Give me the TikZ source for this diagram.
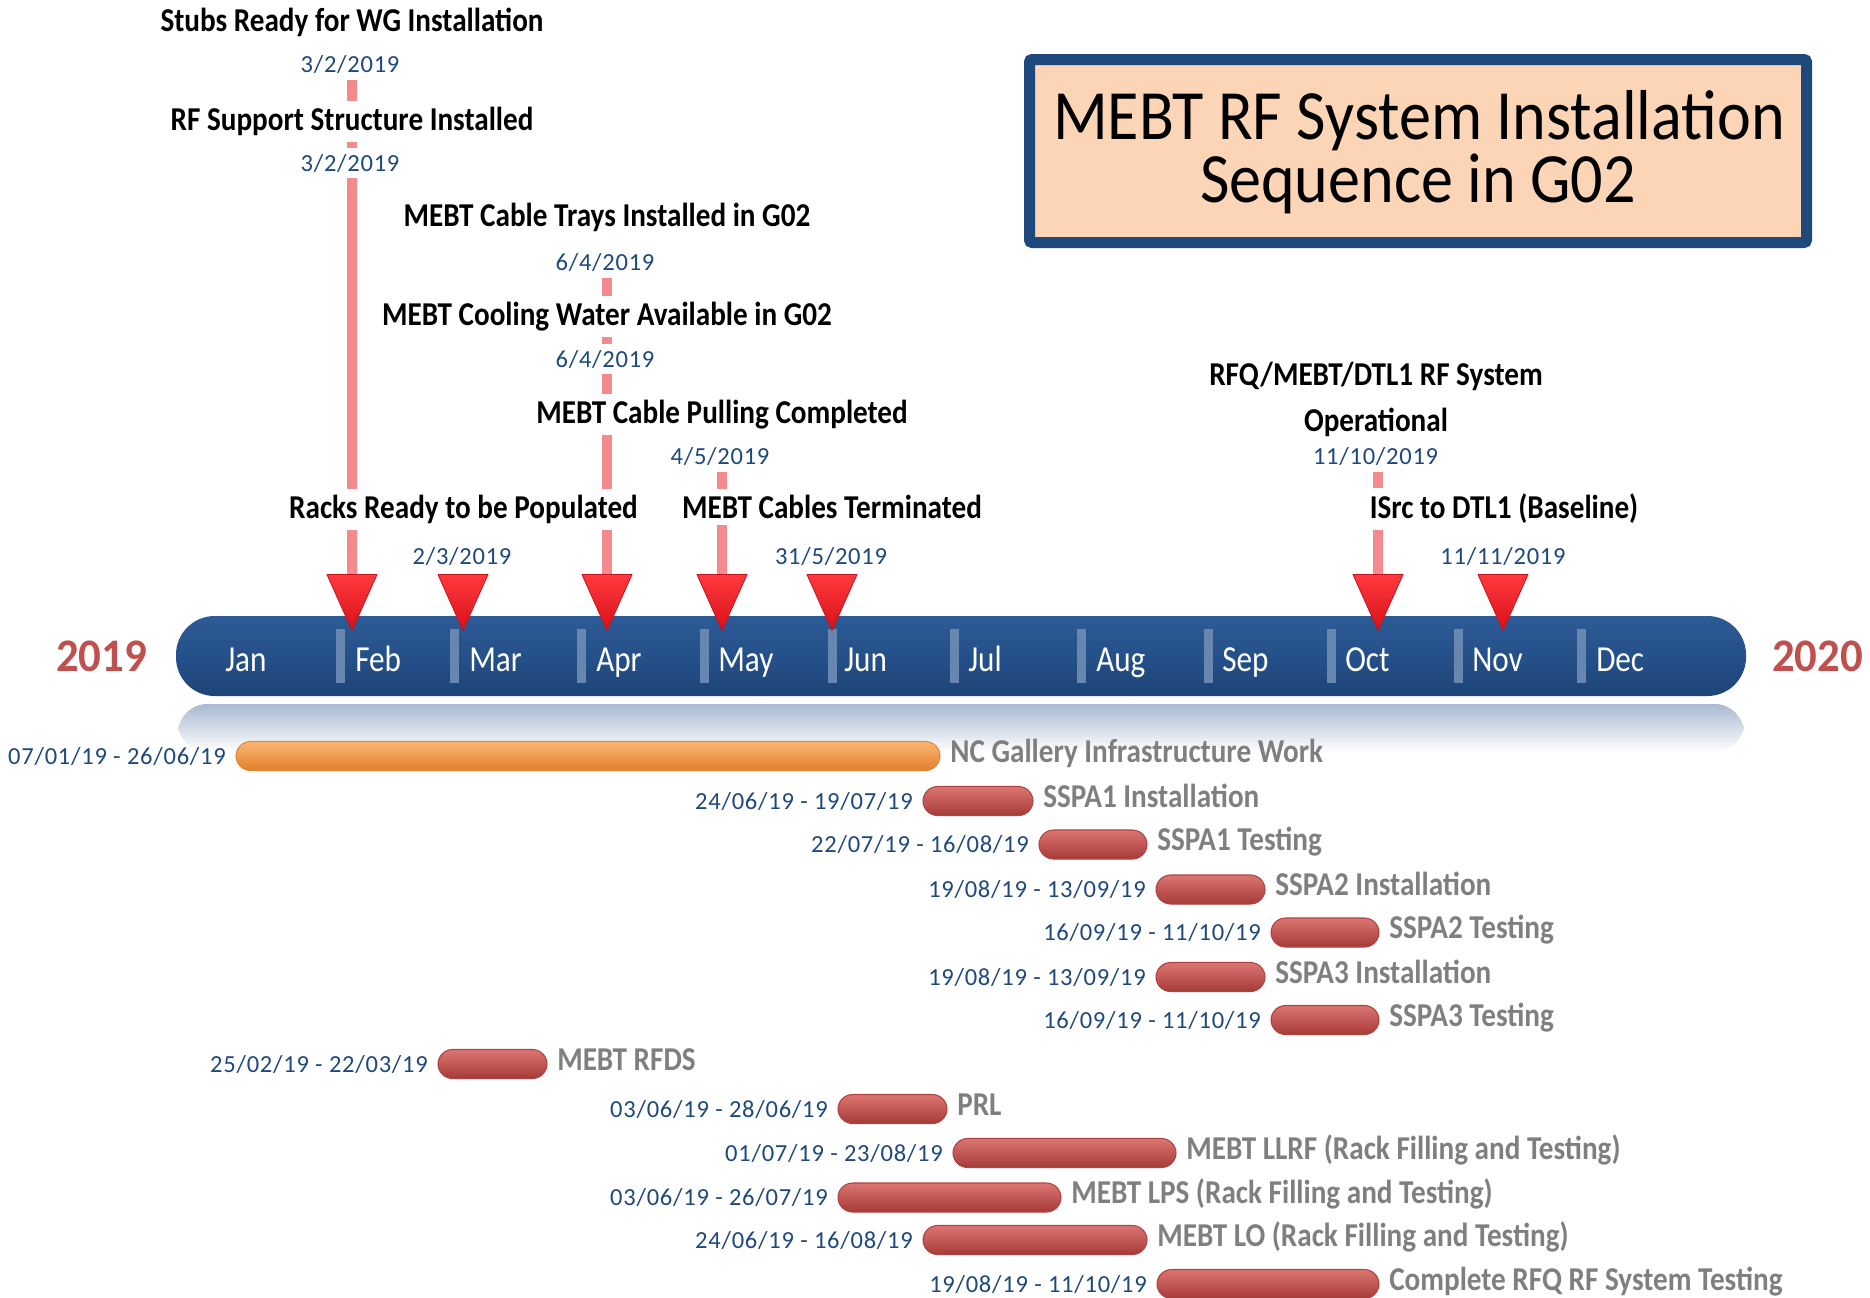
\documentclass[tikz,border=0pt]{standalone}
\usepackage{fontspec}
\setmainfont{Carlito}
\newfontfamily\lblfont{Carlito}[FakeStretch=0.875]
\newfontfamily\datefont{Carlito}[LetterSpace=3]
\newfontfamily\monfont{Carlito}[FakeStretch=0.85]
\newfontfamily\ttlfont{Carlito}[FakeStretch=0.907]
\newfontfamily\yrfont{Carlito}[FakeStretch=0.96]
\definecolor{dblue}{HTML}{1F497D}
\definecolor{lgray}{HTML}{7F7F7F}
\definecolor{yred}{HTML}{C0504D}
\definecolor{mspink}{HTML}{F38A8E}
\definecolor{sepblue}{HTML}{6786B0}
\definecolor{peach}{HTML}{FBD5B5}
\pgfdeclarelayer{bg}
\pgfsetlayers{bg,main}
\tikzset{
  tbox/.style={draw=dblue, line width=8.25pt, fill=peach, rounded corners=2pt,
    minimum width=582.75pt, minimum height=137.25pt, inner sep=0pt},
  ttl/.style={font=\ttlfont\fontsize{53}{50}\selectfont, anchor=base, inner sep=0pt,
    text height=37pt, text depth=7pt},
  msl/.style={font=\lblfont\bfseries\fontsize{25}{28}\selectfont, fill=white,
    inner xsep=2pt, inner ysep=4.5pt, anchor=base},
  msd/.style={font=\datefont\fontsize{18.4}{22}\selectfont, text=dblue, fill=white,
    inner xsep=2pt, inner ysep=4.5pt, anchor=base},
  gd/.style={font=\datefont\fontsize{18.4}{22}\selectfont, text=dblue, anchor=base east, inner sep=0pt},
  gl/.style={font=\lblfont\bfseries\fontsize{25}{28}\selectfont, text=lgray, anchor=base west, inner sep=0pt},
  monthlbl/.style={font=\monfont\fontsize{27.5}{30}\selectfont, text=white, anchor=base west, inner sep=0pt},
  yearlbl/.style={font=\yrfont\bfseries\fontsize{35}{38}\selectfont, text=yred, anchor=base, inner sep=0pt},
  monthsep/.style={draw=sepblue, line width=6.75pt},
  pinkline/.style={draw=mspink, line width=7.5pt},
  tlbar/.style={rounded corners=29pt, top color=HTMLtop, bottom color=HTMLbot, middle color=HTMLmid},
  refl/.style={rounded corners=22pt, top color=reflc, bottom color=white},
  tri/.style={top color=trit, bottom color=trib, draw=trie, line width=0.6pt, line join=round},
  redbar/.style={rounded corners=11pt, top color=rbt, middle color=rbm, bottom color=rbb, draw=rbe, line width=0.8pt},
  orbar/.style={rounded corners=11pt, top color=obt, middle color=obm, bottom color=obb, draw=obe, line width=0.8pt},
}
\definecolor{HTMLtop}{HTML}{2D5B95}
\definecolor{HTMLmid}{HTML}{25508A}
\definecolor{HTMLbot}{HTML}{1D4476}
\definecolor{reflc}{HTML}{A9BAD2}
\definecolor{trit}{HTML}{FF3A3E}
\definecolor{trib}{HTML}{D8101A}
\definecolor{trie}{HTML}{C81219}
\definecolor{rbt}{HTML}{DC7673}
\definecolor{rbm}{HTML}{C4524F}
\definecolor{rbb}{HTML}{A63A37}
\definecolor{rbe}{HTML}{B0423F}
\definecolor{obt}{HTML}{FBB774}
\definecolor{obm}{HTML}{F79646}
\definecolor{obb}{HTML}{E27F2C}
\definecolor{obe}{HTML}{E0893A}
\newcommand\gtask[7]{%
  \path[#5] (#2,#4-14.5) rectangle (#3,#4+14.5);
  \node[gd] (#1d) at (#2-10,#4+8) {#6};
  \node[gl] (#1l) at (#3+10,#4+6) {#7};
}
\begin{document}
\begin{tikzpicture}[x=0.75pt,y=-0.75pt]
\useasboundingbox (0,0) rectangle (1870,1297);
% title
\node[tbox] (tbox) at (1418,151) {};
\node[ttl] (ttl1) at (1419,139) {MEBT RF System Installation};
\node[ttl] (ttl2) at (1418,202) {Sequence in G02};
% timeline bar and reflection
\path[refl] (178,704) rectangle (1744,752);
\path[tlbar] (176,616) rectangle (1746,696);
\foreach \x in {340,454,581,704,832,954,1081,1208,1331,1458,1581}
  \draw[monthsep] (\x,629) -- (\x,683);
\node[monthlbl] (mjan) at (225,671) {Jan};
\node[monthlbl] (mfeb) at (355,671) {Feb};
\node[monthlbl] (mmar) at (469,671) {Mar};
\node[monthlbl] (mapr) at (596,671) {Apr};
\node[monthlbl] (mmay) at (718,671) {May};
\node[monthlbl] (mjun) at (844,671) {Jun};
\node[monthlbl] (mjul) at (968,671) {Jul};
\node[monthlbl] (maug) at (1096,671) {Aug};
\node[monthlbl] (msep) at (1222,671) {Sep};
\node[monthlbl] (moct) at (1345,671) {Oct};
\node[monthlbl] (mnov) at (1472,671) {Nov};
\node[monthlbl] (mdec) at (1596,671) {Dec};
\node[yearlbl] (y2019) at (101.5,671) {2019};
\node[yearlbl] (y2020) at (1817.5,671) {2020};
% milestone triangles
\foreach \n/\x in {feb/352,mar/463,apr/607,may/722,jun/832,oct/1378,nov/1503}{
  \coordinate (tri\n) at (\x,574.5);
  \path[tri] (tri\n) ++(-25,0) -- ++(50,0) -- ++(-25,56) -- cycle;
}
% milestone labels and dates
\node[msl] (stubs) at (352,31) {Stubs Ready for WG Installation};
\node[msd] (stubsd) at (350,72.6) {3/2/2019};
\node[msl] (rfsup) at (352,130.7) {RF Support Structure Installed};
\node[msd] (rfsupd) at (350,171) {3/2/2019};
\node[msl] (trays) at (607,226) {MEBT Cable Trays Installed in G02};
\node[msd] (traysd) at (605,270.5) {6/4/2019};
\node[msl] (cool) at (607,325.7) {MEBT Cooling Water Available in G02};
\node[msd] (coold) at (605,367) {6/4/2019};
\node[msl] (pull) at (722,423) {MEBT Cable Pulling Completed};
\node[msd] (pulld) at (720,464.7) {4/5/2019};
\node[msl] (racks) at (463.5,518.7) {Racks Ready to be Populated};
\node[msd] (racksd) at (462,564) {2/3/2019};
\node[msl] (term) at (832,518.7) {MEBT Cables Terminated};
\node[msd] (termd) at (831,564) {31/5/2019};
\node[msl] (rfqa) at (1376,385.5) {RFQ/MEBT/DTL1 RF System};
\node[msl] (rfqb) at (1376,431) {Operational};
\node[msd] (rfqd) at (1375.6,464.7) {11/10/2019};
\node[msl] (isrc) at (1504,518.7) {ISrc to DTL1 (Baseline)};
\node[msd] (isrcd) at (1503,564) {11/11/2019};
\begin{pgfonlayer}{bg}
\draw[pinkline] (trifeb |- stubsd.south) -- (trifeb);
\draw[pinkline] (triapr |- traysd.south) -- (triapr);
\draw[pinkline] (trimay |- pulld.south) -- (trimay);
\draw[pinkline] (trioct |- rfqd.south) -- (trioct);
\end{pgfonlayer}
% gantt tasks
\gtask{nc}{236}{940}{756}{orbar}{07/01/19 - 26/06/19}{NC Gallery Infrastructure Work}
\gtask{sa}{923}{1033}{801}{redbar}{24/06/19 - 19/07/19}{SSPA1 Installation}
\gtask{sb}{1039}{1147}{844.5}{redbar}{22/07/19 - 16/08/19}{SSPA1 Testing}
\gtask{sc}{1156}{1265}{889.5}{redbar}{19/08/19 - 13/09/19}{SSPA2 Installation}
\gtask{sd}{1271}{1379}{932.5}{redbar}{16/09/19 - 11/10/19}{SSPA2 Testing}
\gtask{se}{1156}{1265}{977}{redbar}{19/08/19 - 13/09/19}{SSPA3 Installation}
\gtask{sf}{1271}{1379}{1020}{redbar}{16/09/19 - 11/10/19}{SSPA3 Testing}
\gtask{rfds}{438}{547}{1064}{redbar}{25/02/19 - 22/03/19}{MEBT RFDS}
\gtask{prl}{838}{947}{1109}{redbar}{03/06/19 - 28/06/19}{PRL}
\gtask{llrf}{953}{1176}{1153}{redbar}{01/07/19 - 23/08/19}{MEBT LLRF (Rack Filling and Testing)}
\gtask{lps}{838}{1061}{1197.5}{redbar}{03/06/19 - 26/07/19}{MEBT LPS (Rack Filling and Testing)}
\gtask{lo}{923}{1147}{1240}{redbar}{24/06/19 - 16/08/19}{MEBT LO (Rack Filling and Testing)}
\gtask{rfq}{1157}{1379}{1284}{redbar}{19/08/19 - 11/10/19}{Complete RFQ RF System Testing}
\end{tikzpicture}
\end{document}
